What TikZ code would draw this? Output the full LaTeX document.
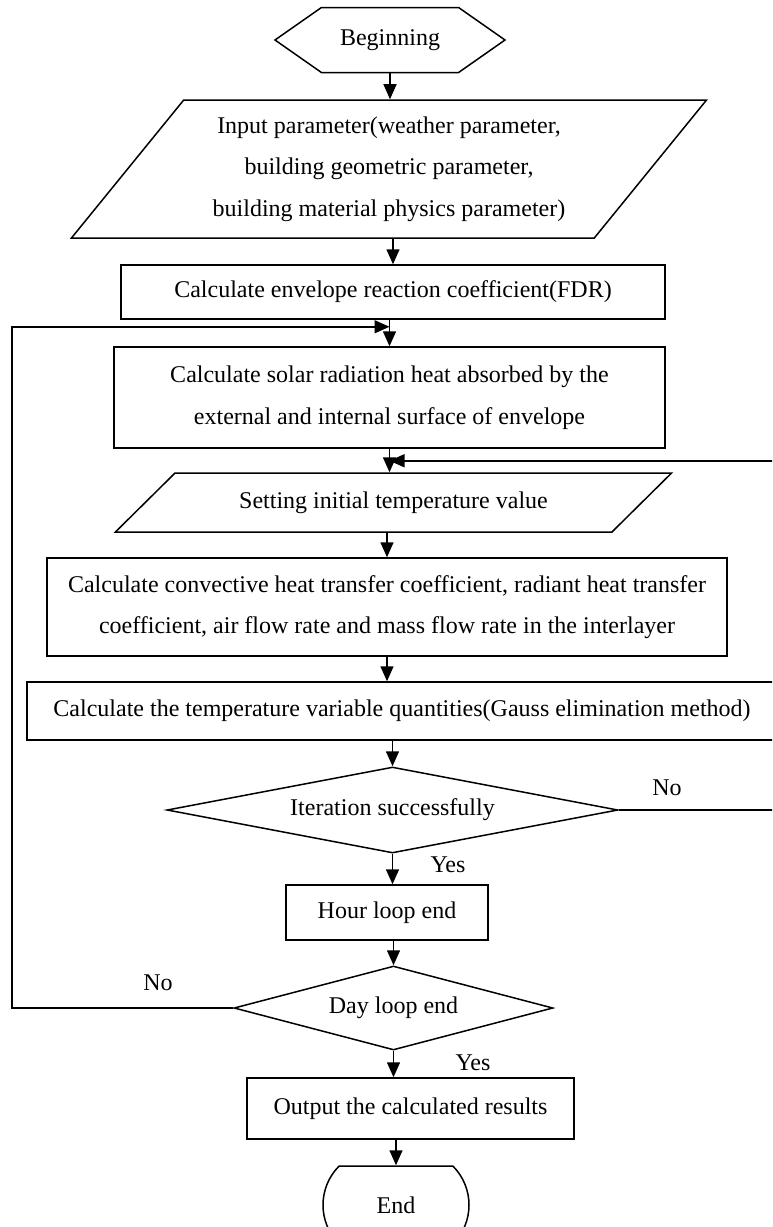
\documentclass[tikz,border=0pt]{standalone}
\usepackage{fontspec}
\setmainfont{Liberation Serif}
\usetikzlibrary{arrows.meta, positioning, shapes.geometric, shapes.misc, shapes.symbols}

\begin{document}
\begin{tikzpicture}[
            x=1pt, y=-1pt,
            font=\fontsize{24}{41.5}\selectfont,
            box/.style={
                draw,
                line width=1.5pt,
                rectangle,
                align=center,
                inner sep=0pt
  },
  para/.style={
    draw,
    line width=1.5pt,
    trapezium,
    trapezium stretches=true,
    align=center,
    inner sep=0pt
  },
  decide/.style={
    draw,
    line width=1.5pt,
    diamond,
    inner sep=0pt
  },
  arr/.style={
    -{Triangle[length=15pt, width=13pt]},
    line width=1.5pt
  }
]

\useasboundingbox (0,0) rectangle (772,1227);
\clip (0,0) rectangle (772,1227);

% Boxes
\node [draw, line width=1.5pt, signal, signal to=west and east, signal from=nowhere,
       signal pointer angle=70, minimum width=230pt, minimum height=65pt,
       inner sep=0pt] (beg) at (390,40) {Beginning};
\node [para, trapezium left angle=47.4, trapezium right angle=132.6,
       minimum width=636pt, minimum height=138pt] (inp) at (389,169)
      {Input parameter(weather parameter,\\ building geometric parameter,\\ building material physics parameter)};
\node [box, minimum width=544pt, minimum height=54pt] (fdr) at (393,292)
      {Calculate envelope reaction coefficient(FDR)};
\node [box, minimum width=551pt, minimum height=101pt] (sol) at (389.5,397.5)
      {Calculate solar radiation heat absorbed by the\\ external and internal surface of envelope};
\node [para, trapezium left angle=27.4, trapezium right angle=152.6,
       minimum width=559pt, minimum height=59pt] (set) at (393.5,502.5)
      {Setting initial temperature value};
\node [box, minimum width=680pt, minimum height=98pt] (conv) at (387,607)
      {Calculate convective heat transfer coefficient, radiant heat transfer\\ coefficient, air flow rate and mass flow rate in the interlayer};
\node [box, minimum width=750pt, minimum height=58pt] (gauss) at (402,711)
      {Calculate the temperature variable quantities(Gauss elimination method)};
\node [decide, aspect=5.24, minimum width=451pt, minimum height=86pt] (iter) at (392.5,810)
      {Iteration successfully};
\node [box, minimum width=202pt, minimum height=55pt] (hour) at (387,912.5)
      {Hour loop end};
\node [decide, aspect=3.8, minimum width=319pt, minimum height=84pt] (day) at (393.5,1008)
      {Day loop end};
\node [box, minimum width=327pt, minimum height=61pt] (out) at (410.5,1108.5)
      {Output the calculated results};
\node [draw, line width=1.5pt, rounded rectangle, rounded rectangle arc length=90,
       minimum width=146pt, minimum height=78pt, inner sep=0pt] (fin) at (396,1205) {End};

% Labels
\node (no1) at (667,788) {No};
\node (yes1) at (448,865) {Yes};
\node (no2) at (158,983) {No};
\node (yes2) at (473,1063) {Yes};

% Join points of the loops
\coordinate (join1) at ([yshift=-7pt]fdr.south -| sol.north);
\coordinate (join2) at ([yshift=-12pt]sol.south);
\coordinate (railL) at (12,0);
\coordinate (railR) at (790,0);

% Main flow
\draw [arr] (beg.south) -- (beg.south |- inp.north);
\draw [arr] (inp.south -| fdr.north) -- (fdr.north);
\draw [arr] (fdr.south -| sol.north) -- (sol.north);
\draw [arr] (sol.south) -- (sol.south |- set.north);
\draw [arr] (set.south -| conv.north) -- (conv.north);
\draw [arr] (conv.south) -- (conv.south |- gauss.north);
\draw [arr] (gauss.south -| iter.north) -- (iter.north);
\draw [arr] (iter.south) -- (iter.south |- hour.north);
\draw [arr] (hour.south -| day.north) -- (day.north);
\draw [arr] (day.south) -- (day.south |- out.north);
\draw [arr] (out.south -| fin.north) -- (fin.north);

% Loops back
\draw [arr] (iter.east) -- (iter.east -| railR) |- (join2);
\draw [arr] (day.west) -- (day.west -| railL) |- (join1);

\end{tikzpicture}
\end{document}
